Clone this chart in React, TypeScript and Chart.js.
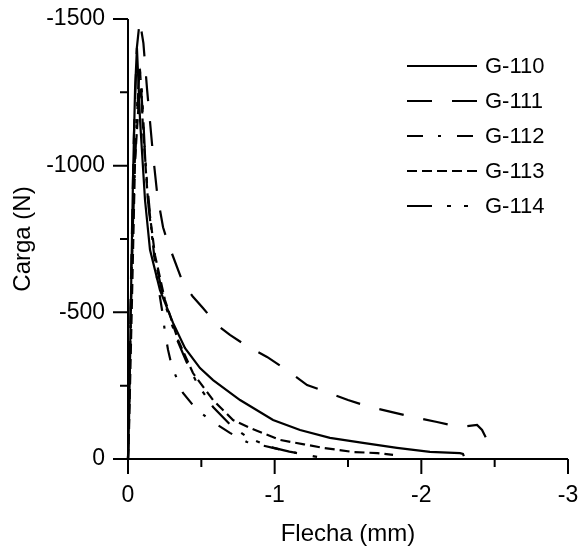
import React, { useEffect, useRef } from "react";
import { Chart, registerables } from "chart.js";

Chart.register(...registerables);

const seriesNames = ["G-110", "G-111", "G-112", "G-113", "G-114"];

const g110X = [0, -0.007, -0.02, -0.034, -0.048, -0.061, -0.082, -0.116, -0.15, -0.218, -0.307, -0.389, -0.491, -0.58, -0.764, -0.989, -1.173, -1.377, -1.602, -1.834, -2.059, -2.264, -2.284, -2.29];
const g110Y = [0, -133, -542, -951, -1258, -1401, -1156, -883, -713, -576, -464, -378, -310, -269, -201, -133, -99, -72, -55, -38, -24, -20, -17, -10];

const g111X = [0, -0.005, -0.02, -0.04, -0.06, -0.08, -0.105, -0.13, -0.15, -0.17, -0.2, -0.239, -0.27, -0.3, -0.375, -0.44, -0.511, -0.607, -0.695, -0.811, -0.948, -1.084, -1.221, -1.357, -1.5, -1.65, -1.8, -1.943, -2.107, -2.264, -2.38, -2.414, -2.448];
const g111Y = [0, -150, -600, -1100, -1400, -1495, -1418, -1260, -1150, -1040, -900, -790, -740, -700, -600, -555, -515, -457, -423, -385, -348, -303, -252, -228, -201, -177, -160, -143, -126, -109, -116, -99, -65];

const g112X = [0, -0.008, -0.025, -0.05, -0.07, -0.085, -0.1, -0.12, -0.16, -0.19, -0.232, -0.252, -0.273, -0.3, -0.375, -0.47, -0.58, -0.695, -0.811, -0.989, -1.1, -1.22, -1.289];
const g112Y = [0, -200, -650, -1050, -1250, -1300, -1180, -1000, -780, -640, -508, -433, -372, -314, -225, -167, -126, -89, -58, -38, -25, -14, -7];

const g113X = [0, -0.007, -0.027, -0.048, -0.075, -0.09, -0.102, -0.136, -0.184, -0.252, -0.341, -0.443, -0.58, -0.716, -0.832, -1.036, -1.2, -1.329, -1.534, -1.7, -1.807];
const g113Y = [0, -99, -542, -1019, -1230, -1270, -1122, -883, -695, -542, -406, -293, -201, -133, -106, -65, -50, -38, -24, -20, -14];

const g114X = [0, -0.008, -0.025, -0.045, -0.065, -0.08, -0.095, -0.115, -0.14, -0.18, -0.25, -0.34, -0.4, -0.47, -0.58, -0.7, -0.811, -0.968, -1.1, -1.22];
const g114Y = [0, -200, -650, -1000, -1230, -1330, -1250, -1050, -860, -690, -530, -400, -330, -259, -177, -115, -75, -41, -25, -14];

const xTicks = [0, -1, -2, -3];
const yTicks = [0, -500, -1000, -1500];

const dashes: number[][] = [[], [25, 20], [16, 15, 3, 16], [10, 5], [25, 15, 4, 13, 4, 13]];

const FONT = "'Liberation Sans', Arial, sans-serif";

function pts(xs: number[], ys: number[]) {
  return xs.map((x, i) => ({ x, y: ys[i] }));
}

function zeroPad(s: any) {
  s.paddingTop = 0;
  s.paddingBottom = 0;
  s.paddingLeft = 0;
  s.paddingRight = 0;
}

const axesPlugin = {
  id: "customAxes",
  afterDraw(chart: any) {
    const { ctx, chartArea: a, scales } = chart;
    const x = scales.x;
    const y = scales.y;
    ctx.save();
    ctx.strokeStyle = "#000";
    ctx.lineWidth = 2;
    ctx.setLineDash([]);
    ctx.beginPath();
    ctx.moveTo(a.left, a.top);
    ctx.lineTo(a.left, a.bottom);
    ctx.lineTo(a.right, a.bottom);
    for (let v = 0; v >= -1500; v -= 250) {
      const py = y.getPixelForValue(v);
      const len = v % 500 === 0 ? 15 : 8;
      ctx.moveTo(a.left - len, py);
      ctx.lineTo(a.left, py);
    }
    for (let v = 0; v >= -3; v -= 0.5) {
      const px = x.getPixelForValue(v);
      const len = Math.abs(v % 1) < 1e-9 ? 15 : 8;
      ctx.moveTo(px, a.bottom);
      ctx.lineTo(px, a.bottom + len);
    }
    ctx.stroke();

    // legend
    const lx0 = 407;
    const lx1 = 477;
    const rowY = [66, 101, 136, 171, 206];
    ctx.font = `22px ${FONT}`;
    ctx.fillStyle = "#000";
    ctx.textAlign = "left";
    ctx.textBaseline = "middle";
    seriesNames.forEach((name, i) => {
      ctx.beginPath();
      ctx.setLineDash(dashes[i]);
      ctx.lineWidth = 2;
      ctx.moveTo(lx0, rowY[i]);
      ctx.lineTo(lx1, rowY[i]);
      ctx.stroke();
      ctx.setLineDash([]);
      ctx.fillText(name, 485, rowY[i] + 1);
    });
    ctx.restore();
  },
};

export default function App() {
  const ref = useRef<HTMLCanvasElement | null>(null);
  useEffect(() => {
    if (!ref.current) return;
    const allX = [g110X, g111X, g112X, g113X, g114X];
    const allY = [g110Y, g111Y, g112Y, g113Y, g114Y];
    const chart = new Chart(ref.current, {
      type: "line",
      data: {
        datasets: seriesNames.map((name, i) => ({
          label: name,
          data: pts(allX[i], allY[i]),
          borderColor: "#000",
          borderWidth: 2.2,
          borderDash: dashes[i],
          pointRadius: 0,
          fill: false,
          tension: 0,
          clip: false,
        })),
      },
      options: {
        animation: false,
        responsive: false,
        events: [],
        layout: { padding: { top: 19, right: 14, left: 0, bottom: 0 } },
        plugins: { legend: { display: false }, tooltip: { enabled: false } },
        scales: {
          x: {
            type: "linear",
            min: -3,
            max: 0,
            reverse: true,
            afterFit: (s: any) => {
              s.height = 97;
              zeroPad(s);
            },
            afterBuildTicks: (s: any) => {
              s.ticks = xTicks.map((v) => ({ value: v }));
            },
            grid: { display: false, drawTicks: false },
            border: { display: false },
            ticks: {
              padding: 23,
              color: "#000",
              font: { family: FONT, size: 23 },
              maxRotation: 0,
              callback: (v: any) => String(v),
            },
            title: {
              display: true,
              text: "Flecha (mm)",
              color: "#000",
              font: { family: FONT, size: 24 },
              padding: { top: 0, bottom: 7 },
            },
          },
          y: {
            type: "linear",
            min: -1500,
            max: 0,
            reverse: true,
            afterFit: (s: any) => {
              s.width = 128;
              zeroPad(s);
            },
            afterBuildTicks: (s: any) => {
              s.ticks = yTicks.map((v) => ({ value: v }));
            },
            grid: { display: false, drawTicks: false },
            border: { display: false },
            ticks: {
              padding: 23,
              color: "#000",
              font: { family: FONT, size: 23 },
              callback: (v: any) => String(v),
            },
            title: {
              display: true,
              text: "Carga (N)",
              color: "#000",
              font: { family: FONT, size: 24 },
              padding: { top: 9, bottom: 0 },
            },
          },
        },
      },
      plugins: [axesPlugin],
    });
    return () => chart.destroy();
  }, []);
  return (
    <div style={{ position: "fixed", left: 0, top: 0, width: 582, height: 556, background: "#fff" }}>
      <canvas ref={ref} width={582} height={556} />
    </div>
  );
}
